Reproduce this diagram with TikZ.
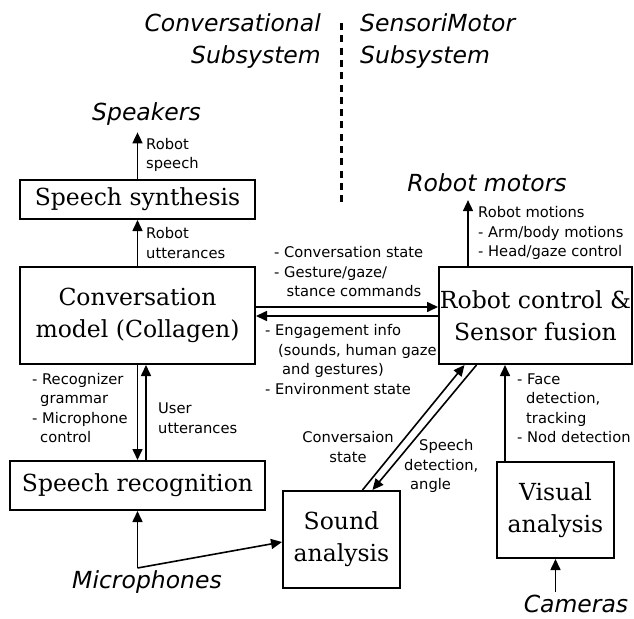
\documentclass[tikz,border=0pt]{standalone}
\usepackage{fontspec}
\setmainfont{DejaVu Serif}
\setsansfont{DejaVu Sans}
\usetikzlibrary{arrows.meta}

\begin{document}
\begin{tikzpicture}[x=1pt, y=-1pt,
  box/.style={draw=black, line width=2pt, align=center, inner sep=0pt, font=\fontsize{23.5}{32}\selectfont},
  head/.style={font=\sffamily\itshape\fontsize{23.5}{32}\selectfont, inner sep=0pt},
  lbl/.style={font=\sffamily\fontsize{14.7}{19.5}\selectfont, align=left, inner sep=0pt, anchor=west},
  arr/.style={black, line width=1.6pt, -{Triangle[length=11pt,width=10pt]}}]
\useasboundingbox (0,0) rectangle (634,618);
% the two halves
\node[head, anchor=east, align=right] (convsys) at (321,41) {Conversational\\Subsystem};
\node[head, anchor=west, align=left] (sensys) at (360,41) {SensoriMotor\\Subsystem};
\draw[black, line width=3.3pt, dash pattern=on 7pt off 5.3pt] (341.5,23) -- (341.5,203);
% boxes
\node[box, minimum width=235pt, minimum height=39pt] (synth) at (137.5,199.5) {Speech synthesis};
\node[box, minimum width=235pt, minimum height=97pt] (conv) at (137.5,315.5) {Conversation\\model (Collagen)};
\node[box, minimum width=193pt, minimum height=97pt] (robot) at (535.5,315.5) {Robot control \&\\Sensor fusion};
\node[box, minimum width=255pt, minimum height=49pt] (recog) at (137.5,485.5) {Speech recognition};
\node[box, minimum width=117pt, minimum height=97pt] (sound) at (341.5,539.5) {Sound\\analysis};
\node[box, minimum width=117pt, minimum height=96pt] (visual) at (555.5,510) {Visual\\analysis};
% devices
\node[head, outer sep=7pt] (speakers) at (146.5,114) {Speakers};
\node[head, outer sep=8pt] (motors) at (487,183) {Robot motors};
\node[head] (mics) at (147,582) {Microphones};
\node[head, outer sep=3pt] (cameras) at (576,604) {Cameras};
\coordinate (micjoin) at (137.5,568);
% labels
\node[lbl] (speechlbl) at (146,155) {Robot\\speech};
\node[lbl] (uttlbl) at (146,243) {Robot\\utterances};
\node[lbl] (tolbl) at (274,272) {- Conversation state\\- Gesture/gaze/\\\hspace*{12.5pt}stance commands};
\node[lbl] (fromlbl) at (265,359.5) {- Engagement info\\\hspace*{13pt}(sounds, human gaze\\\hspace*{17pt}and gestures)\\- Environment state};
\node[lbl] (motionlbl) at (478,233) {Robot motions\\- Arm/body motions\\- Head/gaze control};
\node[lbl] (grammarlbl) at (32,408) {- Recognizer\\\hspace*{8pt}grammar\\- Microphone\\\hspace*{8pt}control};
\node[lbl] (userlbl) at (158,418) {User\\utterances};
\node[lbl] (facelbl) at (517,408) {- Face\\\hspace*{9pt}detection,\\\hspace*{9pt}tracking\\- Nod detection};
\node[lbl, anchor=center, align=center] (convstlbl) at (348,447) {Conversaion\\state};
\node[lbl] (spdetlbl) at (404,466) {\hspace*{15pt}Speech\\detection,\\\hspace*{6pt}angle};
% connectors
\draw[arr] (synth.north) -- (synth.north |- speakers.south);
\draw[arr] (conv.north) -- (synth.south);
\draw[arr] ([yshift=8.5pt]conv.east) -- ([yshift=8.5pt]robot.west);
\draw[arr] ([yshift=-0.5pt]robot.west) -- ([yshift=-0.5pt]conv.east);
\draw[arr] (conv.south) -- (recog.north);
\draw[arr] ([xshift=8.5pt]recog.north) -- ([xshift=8.5pt]conv.south);
\draw[arr] ([xshift=-67.5pt]robot.north) -- ([xshift=-67.5pt]robot.north |- motors.south);
\draw[arr] ([xshift=-50.5pt]visual.north) -- ([xshift=-50.5pt]visual.north |- robot.south);
\draw[arr] (visual.south |- cameras.north) -- (visual.south);
\draw[arr] ([xshift=21pt]sound.north) -- ([xshift=-71pt]robot.south);
\draw[arr] ([xshift=-59pt]robot.south) -- ([xshift=31pt]sound.north);
\draw[arr] (micjoin) -- (recog.south);
\draw[arr] (micjoin) -- ([yshift=-2.5pt]sound.west);
\end{tikzpicture}
\end{document}
